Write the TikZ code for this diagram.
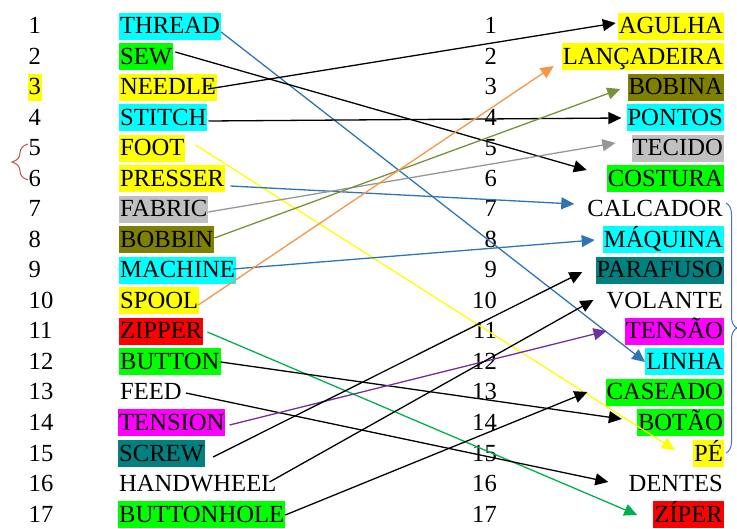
\documentclass[tikz,border=0pt]{standalone}
\usepackage{fontspec}
\setmainfont{Liberation Serif}
\usetikzlibrary{arrows.meta,calc,decorations.pathreplacing}
\definecolor{hcyan}{RGB}{0,255,255}
\definecolor{hgreen}{RGB}{0,255,0}
\definecolor{hyellow}{RGB}{255,255,0}
\definecolor{hgray}{RGB}{192,192,192}
\definecolor{holive}{RGB}{128,128,0}
\definecolor{hteal}{RGB}{0,128,128}
\definecolor{hred}{RGB}{255,0,0}
\definecolor{hmagenta}{RGB}{255,0,255}
\definecolor{lblue}{RGB}{46,117,182}
\definecolor{lgray}{RGB}{150,150,150}
\definecolor{lolive}{RGB}{118,146,60}
\definecolor{lorange}{RGB}{247,150,70}
\definecolor{lgreen}{RGB}{0,176,80}
\definecolor{lpurple}{RGB}{112,48,160}
\definecolor{lyellow}{RGB}{255,255,0}
\definecolor{bracered}{RGB}{192,80,77}
\definecolor{braceblue}{RGB}{68,114,196}
\begin{document}
\begin{tikzpicture}[x=1pt,y=-1pt,
  word/.style={inner xsep=1pt,inner ysep=1pt,text height=20pt,text depth=5pt,font=\fontsize{24.6}{29}\selectfont},
  lw/.style={word,anchor=base west},
  rw/.style={word,anchor=base east},
  lnum/.style={word,anchor=base west},
  rnum/.style={word,anchor=base east},
  link/.style={line width=1.3pt,-{Triangle[length=13pt,width=12pt]}},
  bracestyle/.style={line width=1pt,decorate}
]
\useasboundingbox (0,0) rectangle (737,529);
% left numbers
\node[lnum] (ln1) at (27.5,34) {1};
\node[lnum] (ln2) at (27.5,64.5) {2};
\node[lnum,fill=hyellow] (ln3) at (27.5,95) {3};
\node[lnum] (ln4) at (27.5,125.5) {4};
\node[lnum] (ln5) at (27.5,156) {5};
\node[lnum] (ln6) at (27.5,186.5) {6};
\node[lnum] (ln7) at (27.5,217) {7};
\node[lnum] (ln8) at (27.5,247.5) {8};
\node[lnum] (ln9) at (27.5,278) {9};
\node[lnum] (ln10) at (27.5,308.5) {10};
\node[lnum] (ln11) at (27.5,339) {11};
\node[lnum] (ln12) at (27.5,369.5) {12};
\node[lnum] (ln13) at (27.5,400) {13};
\node[lnum] (ln14) at (27.5,430.5) {14};
\node[lnum] (ln15) at (27.5,461) {15};
\node[lnum] (ln16) at (27.5,491.5) {16};
\node[lnum] (ln17) at (27.5,522) {17};
% left words
\node[lw,fill=hcyan] (thread) at (119,34) {THREAD};
\node[lw,fill=hgreen] (sew) at (119,64.5) {SEW};
\node[lw,fill=hyellow] (needle) at (119,95) {NEEDLE};
\node[lw,fill=hcyan] (stitch) at (119,125.5) {STITCH};
\node[lw,fill=hyellow] (foot) at (119,156) {FOOT};
\node[lw,fill=hyellow] (presser) at (119,186.5) {PRESSER};
\node[lw,fill=hgray] (fabric) at (119,217) {FABRIC};
\node[lw,fill=holive] (bobbin) at (119,247.5) {BOBBIN};
\node[lw,fill=hcyan] (machine) at (119,278) {MACHINE};
\node[lw,fill=hyellow] (spool) at (119,308.5) {SPOOL};
\node[lw,fill=hred] (zipper) at (119,339) {ZIPPER};
\node[lw,fill=hgreen] (button) at (119,369.5) {BUTTON};
\node[lw] (feed) at (119,400) {FEED};
\node[lw,fill=hmagenta] (tension) at (118,430.5) {TENSION};
\node[lw,fill=hteal] (screw) at (118,461) {SCREW};
\node[lw] (handwheel) at (118,491.5) {HANDWHEEL};
\node[lw,fill=hgreen] (buttonhole) at (118,522) {BUTTONHOLE};
% right numbers
\node[rnum] (rn1) at (498,34) {1};
\node[rnum] (rn2) at (498,64.5) {2};
\node[rnum] (rn3) at (498,95) {3};
\node[rnum] (rn4) at (498,125.5) {4};
\node[rnum] (rn5) at (498,156) {5};
\node[rnum] (rn6) at (498,186.5) {6};
\node[rnum] (rn7) at (498,217) {7};
\node[rnum] (rn8) at (498,247.5) {8};
\node[rnum] (rn9) at (498,278) {9};
\node[rnum] (rn10) at (498,308.5) {10};
\node[rnum] (rn11) at (498,339) {11};
\node[rnum] (rn12) at (498,369.5) {12};
\node[rnum] (rn13) at (498,400) {13};
\node[rnum] (rn14) at (498,430.5) {14};
\node[rnum] (rn15) at (498,461) {15};
\node[rnum] (rn16) at (498,491.5) {16};
\node[rnum] (rn17) at (498,522) {17};
% right words
\node[rw,fill=hyellow] (agulha) at (724,34) {AGULHA};
\node[rw,fill=hyellow] (lancadeira) at (724,64.5) {LANÇADEIRA};
\node[rw,fill=holive] (bobina) at (724,95) {BOBINA};
\node[rw,fill=hcyan] (pontos) at (724,125.5) {PONTOS};
\node[rw,fill=hgray] (tecido) at (724,156) {TECIDO};
\node[rw,fill=hgreen] (costura) at (724,186.5) {COSTURA};
\node[rw] (calcador) at (724,217) {CALCADOR};
\node[rw,fill=hcyan] (maquina) at (724,247.5) {MÁQUINA};
\node[rw,fill=hteal] (parafuso) at (724,278) {PARAFUSO};
\node[rw] (volante) at (724,308.5) {VOLANTE};
\node[rw,fill=hmagenta] (tensao) at (724,339) {TENSÃO};
\node[rw,fill=hcyan] (linha) at (724,369.5) {LINHA};
\node[rw,fill=hgreen] (caseado) at (724,400) {CASEADO};
\node[rw,fill=hgreen] (botao) at (724,430.5) {BOTÃO};
\node[rw,fill=hyellow] (pe) at (724,461) {PÉ};
\node[rw] (dentes) at (724,491.5) {DENTES};
\node[rw,fill=hred] (ziper) at (724,522) {ZÍPER};
% braces
\draw[bracestyle,bracered,decoration={brace,amplitude=16pt}] (28,180) -- (28,144);
\draw[bracestyle,braceblue,decoration={brace,amplitude=11pt}] (726,203) -- (726,453);
% connectors
\draw[link,lblue] ($(thread.east)+(0,5.5)$) -- ($(linha.west)+(0,0)$);
\draw[link,black] ($(sew.east)+(2,-5)$) -- ($(costura.west)+(-20,-9)$);
\draw[link,black] ($(needle.east)+(-9,1.5)$) -- ($(agulha.west)+(-2,-3.5)$);
\draw[link,black] ($(stitch.east)+(1,3)$) -- ($(pontos.west)+(-5,0)$);
\draw[link,lyellow] ($(foot.east)+(10,-3.5)$) -- ($(pe.west)+(-18,-3.5)$);
\draw[link,lblue] ($(presser.east)+(5,7)$) -- ($(calcador.west)+(-12,-5.5)$);
\draw[link,lgray] ($(fabric.east)+(0,2.5)$) -- ($(tecido.west)+(-16,-5.5)$);
\draw[link,lolive] ($(bobbin.east)+(0,-2)$) -- ($(bobina.west)+(-7,1.5)$);
\draw[link,lblue] ($(machine.east)+(-3,-1.5)$) -- ($(maquina.west)+(-8,0)$);
\draw[link,lorange] ($(spool.east)+(-1,4)$) -- ($(lancadeira.west)+(-8,9)$);
\draw[link,lgreen] ($(zipper.east)+(4,0.5)$) -- ($(ziper.west)+(-16,0.5)$);
\draw[link,black] ($(button.east)+(0,0)$) -- ($(botao.west)+(-15,-4)$);
\draw[link,black] ($(feed.east)+(3,0.5)$) -- ($(dentes.west)+(-19,-2)$);
\draw[link,lpurple] ($(tension.east)+(4,2)$) -- ($(tensao.west)+(-18,-0.5)$);
\draw[link,black] ($(screw.east)+(8,3.5)$) -- ($(parafuso.west)+(-13,1.5)$);
\draw[link,black] ($(handwheel.east)+(-8,-2)$) -- ($(volante.west)+(-12,-1)$);
\draw[link,black] ($(buttonhole.east)+(0,0.5)$) -- ($(caseado.west)+(-18,-0.5)$);
\end{tikzpicture}
\end{document}
